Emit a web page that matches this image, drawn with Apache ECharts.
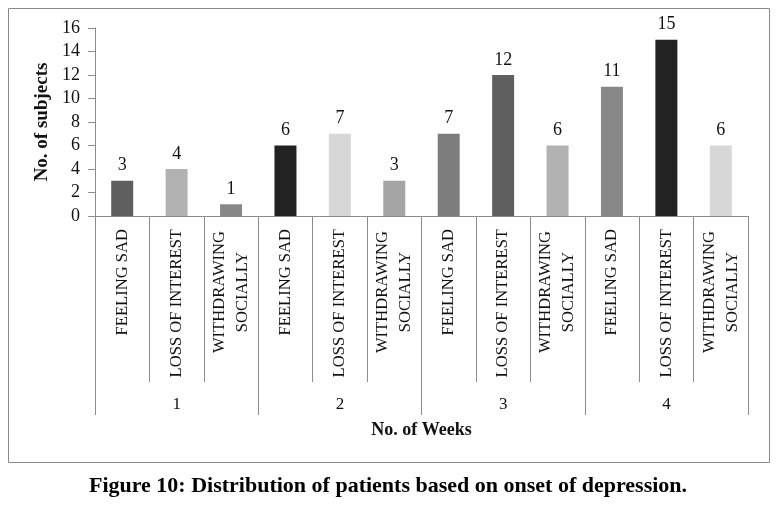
<!DOCTYPE html>
<html>
<head>
<meta charset="utf-8">
<script src="https://cdn.jsdelivr.net/npm/echarts@6/dist/echarts.min.js"></script>
<style>
html,body{margin:0;padding:0;background:#fff;}
#chart{width:776px;height:507px;}
</style>
</head>
<body>
<div id="chart"></div>
<script>
const weeks = ['1', '2', '3', '4'];
const symptoms = ['FEELING SAD', 'LOSS OF INTEREST', 'WITHDRAWING\nSOCIALLY'];
const feelingSad = [3, 6, 7, 11];
const lossOfInterest = [4, 7, 12, 15];
const withdrawingSocially = [1, 3, 6, 6];
const yTicks = [0, 2, 4, 6, 8, 10, 12, 14, 16];
const barColors = [
  ['#5f5f5f', '#b2b2b2', '#878787'],
  ['#222222', '#d7d7d7', '#a5a5a5'],
  ['#7d7d7d', '#5f5f5f', '#b2b2b2'],
  ['#888888', '#222222', '#d7d7d7']
];

const categories = [];
const values = [];
weeks.forEach((w, i) => {
  const v = [feelingSad[i], lossOfInterest[i], withdrawingSocially[i]];
  symptoms.forEach((s, j) => {
    categories.push(s);
    values.push({ value: v[j], itemStyle: { color: barColors[i][j] } });
  });
});

const serif = '"Liberation Serif", "DejaVu Serif", serif';
const axisGray = '#8c8c8c';

const chart = echarts.init(document.getElementById('chart'));
chart.setOption({
  animation: false,
  backgroundColor: '#fff',
  grid: { left: 95, right: 28, top: 28, bottom: 291, containLabel: false },
  xAxis: [
    {
      type: 'category',
      data: categories,
      position: 'bottom',
      axisLine: { show: true, lineStyle: { color: axisGray, width: 1 } },
      axisTick: { show: true, length: 166, lineStyle: { color: axisGray } },
      axisLabel: {
        rotate: 90,
        margin: 13,
        interval: 0,
        color: '#111',
        fontFamily: serif,
        fontSize: 16.6,
        lineHeight: 23,
        formatter: function (val) {
          if (val.indexOf('\n') < 0) return val;
          return val.split('\n').map(l => '{a|' + l + '}').join('\n');
        },
        rich: { a: { fontFamily: serif, fontSize: 16.6, color: '#111', width: 126, align: 'center', lineHeight: 23 } }
      }
    },
    {
      type: 'category',
      data: weeks,
      position: 'bottom',
      axisLine: { show: false },
      axisTick: { show: true, length: 199, lineStyle: { color: axisGray } },
      axisLabel: { margin: 180, color: '#111', fontFamily: serif, fontSize: 17 },
      name: 'No. of Weeks',
      nameLocation: 'middle',
      nameGap: 205,
      nameTextStyle: { fontFamily: serif, fontWeight: 'bold', fontSize: 18, color: '#111' }
    }
  ],
  yAxis: {
    type: 'value',
    min: yTicks[0],
    max: yTicks[yTicks.length - 1],
    interval: 2,
    splitLine: { show: false },
    axisLine: { show: true, lineStyle: { color: axisGray } },
    axisTick: { show: true, length: 7, lineStyle: { color: axisGray } },
    axisLabel: { margin: 15, color: '#111', fontFamily: serif, fontSize: 18 },
    name: 'No. of subjects',
    nameLocation: 'middle',
    nameRotate: 90,
    nameGap: 42,
    nameTextStyle: { fontFamily: serif, fontWeight: 'bold', fontSize: 19, color: '#111' }
  },
  series: [{
    type: 'bar',
    xAxisIndex: 0,
    data: values,
    barWidth: 22,
    label: { show: true, position: 'top', distance: 6, color: '#111', fontFamily: serif, fontSize: 18 }
  }],
  graphic: [
    { type: 'rect', shape: { x: 8.5, y: 8.5, width: 761, height: 454 }, style: { fill: 'none', stroke: '#8a8a8a', lineWidth: 1 }, silent: true },
    { type: 'text', left: 'center', top: 475, style: { text: 'Figure 10: Distribution of patients based on onset of depression.', font: 'bold 22px "Liberation Serif", serif', fill: '#000' } }
  ]
});
</script>
</body>
</html>
